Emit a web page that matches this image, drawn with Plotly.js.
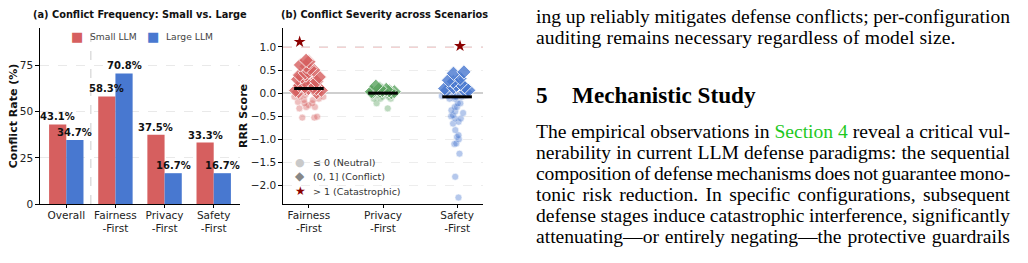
<!DOCTYPE html>
<html>
<head>
<meta charset="utf-8">
<script src="https://cdn.plot.ly/plotly-3.0.1.min.js"></script>
<style>
  html, body { margin: 0; padding: 0; background: #fff; }
  #wrap { position: relative; width: 1028px; height: 263px; overflow: hidden; }
  #chart { position: absolute; left: 0; top: 0; width: 1028px; height: 263px; }
  #prose { position: absolute; left: 536px; top: 0; width: 474px; height: 263px;
           font-family: 'Liberation Serif', 'Times New Roman', serif; color: #000; }
  .ln { position: absolute; left: 0; width: 474px; height: 21px; line-height: 21px;
        font-size: 19.6px; white-space: nowrap; }
  .ln span { white-space: nowrap; }
  .last span { letter-spacing: 0.15px; }
  .ref { color: rgb(30, 200, 30); }
  .head { position: absolute; left: 0; height: 28px; line-height: 28px;
          font-size: 23.2px; font-weight: bold; white-space: nowrap; }
</style>
</head>
<body>
<div id="wrap">
  <div id="chart"></div>
  <div id="prose">
    <div class="ln j" style="top:6px"><span>ing up reliably mitigates defense conflicts; per-configuration</span></div>
    <div class="ln last" style="top:27px"><span>auditing remains necessary regardless of model size.</span></div>
    <div class="head" style="top:81px; left:0">5</div>
    <div class="head" style="top:81px; left:36px">Mechanistic Study</div>
    <div class="ln j" style="top:121px"><span>The empirical observations in <span class="ref">Section 4</span> reveal a critical vul-</span></div>
    <div class="ln j" style="top:142px"><span>nerability in current LLM defense paradigms: the sequential</span></div>
    <div class="ln j" style="top:163px"><span>composition of defense mechanisms does not guarantee mono-</span></div>
    <div class="ln j" style="top:184px"><span>tonic risk reduction. In specific configurations, subsequent</span></div>
    <div class="ln j" style="top:205px"><span>defense stages induce catastrophic interference, significantly</span></div>
    <div class="ln j" style="top:226px"><span>attenuating—or entirely negating—the protective guardrails</span></div>
  </div>
</div>
<script>
// ---- (a) conflict frequency by scenario ----
const scenarios = ['Overall', 'Fairness<br>-First', 'Privacy<br>-First', 'Safety<br>-First'];
const smallRate = [43.1, 58.3, 37.5, 33.3];
const largeRate = [34.7, 70.8, 16.7, 16.7];
const modelSizes = ['Small LLM', 'Large LLM'];

// ---- (b) RRR scores per scenario, split by severity class ----
const severityScenarios = ['Fairness<br>-First', 'Privacy<br>-First', 'Safety<br>-First'];
const severityClasses = ['\u2264 0 (Neutral)', '(0, 1] (Conflict)', '> 1 (Catastrophic)'];

const fairnessNeutral = [-0.02, -0.04, -0.08, -0.08, -0.08, -0.12, -0.15, -0.15, -0.19,
  -0.22, -0.22, -0.26, -0.30, -0.30, -0.33, -0.51, -0.53, -0.53];
const fairnessConflict = [0.71, 0.68, 0.61, 0.58, 0.53, 0.50, 0.46, 0.44, 0.39, 0.39, 0.35,
  0.35, 0.30, 0.25, 0.25, 0.21, 0.17, 0.14, 0.12, 0.10, 0.10, 0.10, 0.06, 0.06, 0.03, 0.01];
const fairnessCatastrophic = [1.11];

const privacyNeutral = [-0.01, -0.04, -0.04, -0.08, -0.08, -0.12, -0.12, -0.12, -0.22, -0.33];
const privacyConflict = [0.15, 0.10, 0.08, 0.06, 0.05, 0.04, 0.03, 0.03, 0.02, 0.01];
const privacyCatastrophic = [];

const safetyNeutral = [-0.01, -0.02, -0.03, -0.04, -0.05, -0.06, -0.07, -0.08, -0.08, -0.08,
  -0.08, -0.12, -0.12, -0.22, -0.22, -0.30, -0.30, -0.37, -0.40, -0.43, -0.48, -0.50, -0.55,
  -0.55, -0.62, -0.66, -0.80, -0.91, -0.95, -1.00, -1.09, -1.10, -1.31, -1.81, -2.26];
const safetyConflict = [0.46, 0.43, 0.32, 0.28, 0.25, 0.21, 0.17, 0.14, 0.12, 0.10, 0.06, 0.06, 0.03];
const safetyCatastrophic = [1.02];

const severityTickVals = [1.0, 0.5, 0.0, -0.5, -1.0, -1.5, -2.0];

const RED = '#d65f5f', BLUE = '#4878d0', GREEN = '#5aa35f', STAR = '#8b0000';
const FONT = 'DejaVu Sans, sans-serif';
const W = 1028, H = 263;
const BAR_W = 0.35;

// star placement within each strip (box pointpos units), no random jitter for singletons
const groups = [
  { neutral: fairnessNeutral, conflict: fairnessConflict, cat: fairnessCatastrophic, color: RED, starPos: -0.57 },
  { neutral: privacyNeutral, conflict: privacyConflict, cat: privacyCatastrophic, color: GREEN, starPos: 0 },
  { neutral: safetyNeutral, conflict: safetyConflict, cat: safetyCatastrophic, color: BLUE, starPos: 0.18 }
];

function median(arr) {
  const s = arr.slice().sort((a, b) => a - b);
  const m = Math.floor(s.length / 2);
  return s.length % 2 ? s[m] : (s[m - 1] + s[m]) / 2;
}

const traces = [
  { type: 'bar', name: modelSizes[0], x: scenarios, y: smallRate, xaxis: 'x', yaxis: 'y',
    marker: { color: RED }, hoverinfo: 'skip', showlegend: false },
  { type: 'bar', name: modelSizes[1], x: scenarios, y: largeRate, xaxis: 'x', yaxis: 'y',
    marker: { color: BLUE }, hoverinfo: 'skip', showlegend: false }
];

// jittered strip points, drawn as box traces with hidden boxes
function strip(values, pos, symbol, size, color, opacity, lineW, jitter, pointpos) {
  return {
    type: 'box', y: values, x0: pos, width: 0.44, xaxis: 'x2', yaxis: 'y2',
    boxpoints: 'all', jitter: jitter, pointpos: pointpos, showlegend: false, hoverinfo: 'skip',
    fillcolor: 'rgba(0,0,0,0)', line: { width: 0, color: 'rgba(0,0,0,0)' },
    marker: { symbol: symbol, size: size, color: color, opacity: opacity,
              line: { color: '#ffffff', width: lineW } }
  };
}

const medX = [], medY = [];
groups.forEach((g, i) => {
  traces.push(strip(g.neutral, i, 'circle', 7, g.color, 0.4, 0.6, 1, 0));
  traces.push(strip(g.conflict, i, 'diamond', 11, g.color, 0.8, 1, 1, 0));
  if (g.cat.length) traces.push(strip(g.cat, i, 'star', 9, STAR, 1, 0, 0, g.starPos));
  const m = median(g.neutral.concat(g.conflict, g.cat));
  medX.push(i - 0.2, i + 0.2, null);
  medY.push(m, m, null);
});

traces.push({ type: 'scatter', mode: 'lines', x: medX, y: medY, xaxis: 'x2', yaxis: 'y2',
  line: { color: '#000', width: 3 }, showlegend: false, hoverinfo: 'skip' });

const annotations = [
  { text: '<b>(a) Conflict Frequency: Small vs. Large</b>', xref: 'paper', yref: 'paper',
    x: 140 / W, y: 1 - 14 / H, xanchor: 'center', yanchor: 'middle', showarrow: false,
    font: { family: FONT, size: 9.8, color: '#111' } },
  { text: '<b>(b) Conflict Severity across Scenarios</b>', xref: 'paper', yref: 'paper',
    x: 384 / W, y: 1 - 14 / H, xanchor: 'center', yanchor: 'middle', showarrow: false,
    font: { family: FONT, size: 9.8, color: '#111' } }
];

// value labels above each bar (drawn over both bar series)
[smallRate, largeRate].forEach((vals, s) => {
  vals.forEach((v, i) => {
    annotations.push({ xref: 'x', yref: 'y', x: i + (s - 0.5) * BAR_W, y: v,
      text: '<b>' + v.toFixed(1) + '%</b>', showarrow: false, xanchor: 'center',
      yanchor: 'bottom', yshift: 0, font: { family: FONT, size: 10, color: '#111' } });
  });
});

// legend for (a)
const legA = [[RED, 77, 88], [BLUE, 153, 164]];
legA.forEach(([col, sx, tx], k) => {
  annotations.push({ xref: 'paper', yref: 'paper', x: sx / W, y: 1 - 37 / H, text: '\u25A0',
    showarrow: false, xanchor: 'center', yanchor: 'middle', font: { family: FONT, size: 13, color: col } });
  annotations.push({ xref: 'paper', yref: 'paper', x: tx / W, y: 1 - 37 / H, text: modelSizes[k],
    showarrow: false, xanchor: 'left', yanchor: 'middle', font: { family: FONT, size: 9.2, color: '#444' } });
});

// legend for (b)
const legB = [['\u25CF', '#c9c9c9', 11, 162], ['\u25C6', '#878787', 12, 176], ['\u2605', STAR, 12, 191]];
legB.forEach(([glyph, col, sz, yy], k) => {
  annotations.push({ xref: 'paper', yref: 'paper', x: 300 / W, y: 1 - yy / H, text: glyph,
    showarrow: false, xanchor: 'center', yanchor: 'middle', font: { family: FONT, size: sz, color: col } });
  annotations.push({ xref: 'paper', yref: 'paper', x: 311 / W, y: 1 - yy / H, text: severityClasses[k],
    showarrow: false, xanchor: 'left', yanchor: 'middle', font: { family: FONT, size: 9.5, color: '#333' } });
});

const yDom = [1 - 204 / H, 1 - 28 / H];
const tickFont = { family: FONT, size: 10.5, color: '#222' };

const layout = {
  width: W, height: H, margin: { l: 0, r: 0, t: 0, b: 0 },
  paper_bgcolor: '#fff', plot_bgcolor: '#fff',
  font: { family: FONT, color: '#222' },
  barmode: 'group', bargap: 0.3, bargroupgap: 0, boxmode: 'overlay',
  showlegend: false,
  xaxis: { domain: [40 / W, 240 / W], anchor: 'y', type: 'category', range: [-0.535, 3.535],
    showline: true, linecolor: '#000', linewidth: 1.2, ticks: 'outside', ticklen: 3,
    tickcolor: '#000', tickfont: tickFont, ticklabelstandoff: -2, showgrid: false, zeroline: false },
  yaxis: { domain: yDom, anchor: 'x', range: [0, 95.4], tickvals: [0, 25, 50, 75],
    showline: true, linecolor: '#000', linewidth: 1.2, ticks: 'outside', ticklen: 3.5,
    tickcolor: '#000', tickfont: tickFont, showgrid: true, gridcolor: '#e3e3e3', griddash: 'dash',
    gridwidth: 0.8, zeroline: false,
    title: { text: '<b>Conflict Rate (%)</b>', font: { family: FONT, size: 11, color: '#111' }, standoff: 0 } },
  xaxis2: { domain: [283 / W, 483 / W], anchor: 'y2', range: [-0.35, 2.35],
    tickvals: [0, 1, 2], ticktext: severityScenarios,
    showline: true, linecolor: '#000', linewidth: 1.2, ticks: 'outside', ticklen: 3,
    tickcolor: '#000', tickfont: tickFont, ticklabelstandoff: -2, showgrid: false, zeroline: false },
  yaxis2: { domain: yDom, anchor: 'x2', range: [-2.40, 1.41], tickvals: severityTickVals,
    tickformat: '.1f', showline: true, linecolor: '#000', linewidth: 1.2, ticks: 'outside',
    ticklen: 3.5, tickcolor: '#000', tickfont: tickFont, showgrid: true, gridcolor: '#e8e8e8',
    griddash: 'dash', gridwidth: 0.8, zeroline: true, zerolinecolor: '#cfcfcf', zerolinewidth: 1.5,
    title: { text: '<b>RRR Score</b>', font: { family: FONT, size: 11, color: '#111' }, standoff: 0 } },
  shapes: [
    { type: 'line', xref: 'x', yref: 'y domain', x0: 0.5, x1: 0.5, y0: 0, y1: 1, layer: 'below',
      line: { color: '#cccccc', width: 1, dash: 'dash' } },
    { type: 'line', xref: 'x2 domain', yref: 'y2', x0: 0, x1: 1, y0: 1, y1: 1, layer: 'below',
      line: { color: '#e39a9a', width: 1, dash: 'dash' } }
  ],
  annotations: annotations
};

Plotly.newPlot('chart', traces, layout, { staticPlot: true, displayModeBar: false });

// justify each full line to the column width: stretch word gaps, and when a line
// runs long, take part of the squeeze from letter spacing
document.querySelectorAll('#prose .ln.j').forEach(function (el) {
  const span = el.firstElementChild;
  const natural = span.getBoundingClientRect().width;
  const text = span.textContent;
  const gaps = (text.match(/ /g) || []).length;
  let diff = 474 - natural;
  if (diff < 0) {
    const maxWordShrink = -1.2 * gaps;
    if (diff < maxWordShrink) {
      const rest = diff - maxWordShrink;
      span.style.letterSpacing = (rest / text.length) + 'px';
      diff = maxWordShrink;
    }
  }
  if (gaps) span.style.wordSpacing = (diff / gaps) + 'px';
});
</script>
</body>
</html>
